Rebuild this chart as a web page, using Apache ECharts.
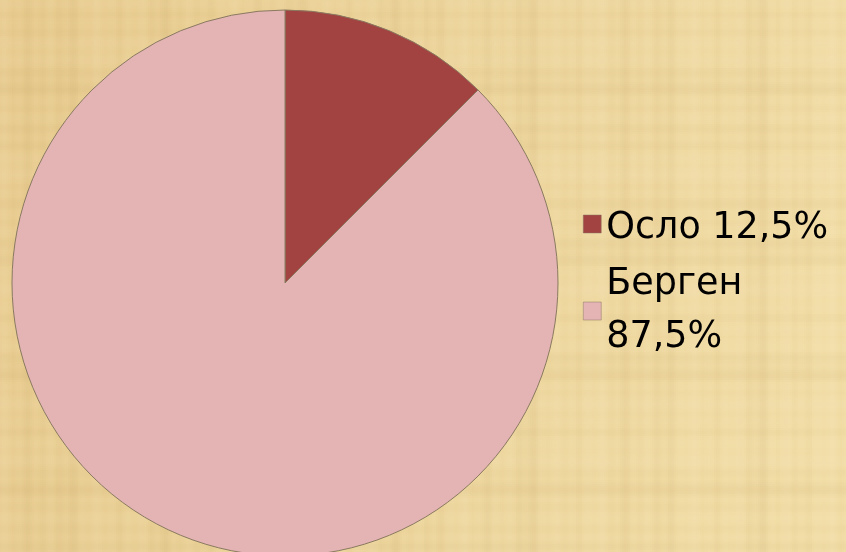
<!DOCTYPE html>
<html><head><meta charset="utf-8">
<script src="https://cdn.jsdelivr.net/npm/echarts@6/dist/echarts.min.js"></script>
<style>html,body{margin:0;padding:0;}#c{width:846px;height:552px;}</style>
</head><body><div id="c"></div>
<script>
const categories = ['Осло', 'Берген'];
const values = [12.5, 87.5];
const percentLabels = ['12,5%', '87,5%'];
const colors = ['#A24241', '#E4B3B4'];

// papyrus-like background texture (decorative, deterministic)
function makeTexture() {
  const cv = document.createElement('canvas');
  cv.width = 846; cv.height = 552;
  const ctx = cv.getContext('2d');
  const g = ctx.createLinearGradient(0, 0, 846, 250);
  g.addColorStop(0, '#E8CB8F');
  g.addColorStop(0.55, '#EDD59D');
  g.addColorStop(1, '#F2DDA7');
  ctx.fillStyle = g;
  ctx.fillRect(0, 0, 846, 552);
  for (let x = 0; x < 846; x += 2) {
    const v = Math.sin(x * 0.41) + Math.sin(x * 0.137 + 1.3) + 0.8 * Math.sin(x * 0.053 + 2.1);
    ctx.fillStyle = v > 0 ? 'rgba(255,245,215,' + (0.035 * v) + ')' : 'rgba(170,130,60,' + (-0.03 * v) + ')';
    ctx.fillRect(x, 0, 2, 552);
  }
  for (let y = 0; y < 552; y += 2) {
    const v = Math.sin(y * 0.33 + 0.5) + Math.sin(y * 0.109 + 2.0) + 0.8 * Math.sin(y * 0.047);
    ctx.fillStyle = v > 0 ? 'rgba(255,245,215,' + (0.03 * v) + ')' : 'rgba(170,130,60,' + (-0.028 * v) + ')';
    ctx.fillRect(0, y, 846, 2);
  }
  return cv;
}

const textStyleBase = {fontFamily: 'DejaVu Sans', fontSize: 36.5, color: '#000'};

const chart = echarts.init(document.getElementById('c'));
chart.setOption({
  backgroundColor: {image: makeTexture(), repeat: 'no-repeat'},
  animation: false,
  legend: [{
    orient: 'vertical',
    left: 583, top: 193, padding: 0,
    itemWidth: 18, itemHeight: 18,
    icon: 'rect',
    data: [{name: categories[0], itemStyle: {color: colors[0], borderColor: '#8a7a60', borderWidth: 0.5}}],
    formatter: function (name) {
      return '{s| }\n{o|' + name + ' ' + percentLabels[0] + '}';
    },
    textStyle: Object.assign({
      lineHeight: 53,
      rich: {
        s: {fontSize: 6, lineHeight: 9},
        o: Object.assign({lineHeight: 53}, textStyleBase)
      }
    }, textStyleBase)
  }, {
    orient: 'vertical',
    left: 583, top: 258, padding: 0,
    itemWidth: 18, itemHeight: 18,
    icon: 'rect',
    data: [{name: categories[1], itemStyle: {color: colors[1], borderColor: '#8a7a60', borderWidth: 0.5}}],
    formatter: function (name) {
      return name + '\n' + percentLabels[1];
    },
    textStyle: Object.assign({lineHeight: 53}, textStyleBase)
  }],
  series: [{
    type: 'pie',
    center: [285, 283],
    radius: 273,
    startAngle: 90,
    clockwise: true,
    label: {show: false},
    labelLine: {show: false},
    itemStyle: {borderColor: '#8a7a60', borderWidth: 1},
    data: categories.map((n, i) => ({name: n, value: values[i], itemStyle: {color: colors[i]}}))
  }]
});
</script></body></html>
